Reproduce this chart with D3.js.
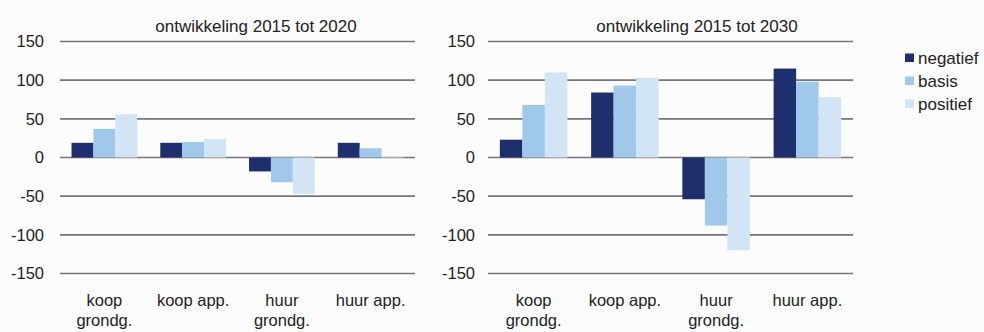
<!DOCTYPE html>
<html>
<head>
<meta charset="utf-8">
<script src="https://cdn.jsdelivr.net/npm/d3@7"></script>
<style>
  html, body { margin: 0; padding: 0; background: #fcfcfc; }
  svg { display: block; }
  text { font-family: "Liberation Sans", Arial, sans-serif; fill: #222; }
</style>
</head>
<body>
<svg id="chart" width="984" height="332"></svg>
<script>
// Woningvoorraad: ontwikkeling per segment en scenario
const categories = ["koop grondg.", "koop app.", "huur grondg.", "huur app."];
const categoryLines = [["koop", "grondg."], ["koop app."], ["huur", "grondg."], ["huur app."]];
const series = ["negatief", "basis", "positief"];
const seriesColors = ["#1d2f6c", "#9fc8ea", "#d2e5f4"];

const titles = ["ontwikkeling 2015 tot 2020", "ontwikkeling 2015 tot 2030"];

// values per series (negatief, basis, positief), per category
const negatief2020 = [19, 19, -18, 19];
const basis2020 = [37, 20, -32, 12];
const positief2020 = [56, 24, -47, 1];

const negatief2030 = [23, 84, -54, 115];
const basis2030 = [68, 93, -88, 98];
const positief2030 = [110, 103, -120, 78];

const yTicks = [-150, -100, -50, 0, 50, 100, 150];

const panels = [
  { title: titles[0], data: [negatief2020, basis2020, positief2020], x0: 60, x1: 415, titleX: 256, labelX: 44 },
  { title: titles[1], data: [negatief2030, basis2030, positief2030], x0: 488, x1: 853, titleX: 697, labelX: 475 }
];

const svg = d3.select("#chart");
const y = d3.scaleLinear().domain([-150, 150]).range([273.5, 41.5]);

panels.forEach(p => {
  const g = svg.append("g");

  const x = d3.scaleBand().domain(categories).range([p.x0, p.x1])
    .paddingInner(0.26).paddingOuter(0.13);
  const xs = d3.scaleBand().domain(series).range([0, x.bandwidth()]);

  // horizontal gridlines
  g.selectAll("line.grid").data(yTicks).join("line")
    .attr("class", "grid")
    .attr("x1", p.x0).attr("x2", p.x1)
    .attr("y1", d => y(d)).attr("y2", d => y(d))
    .attr("stroke", "#767676").attr("stroke-width", 1.6);

  // y axis labels (plain hyphen for negatives)
  const yAxis = d3.axisLeft(y).tickValues(yTicks).tickSize(0).tickPadding(0)
    .tickFormat(d => String(d));
  const ya = g.append("g").attr("transform", `translate(${p.labelX},0)`).call(yAxis);
  ya.select(".domain").remove();
  ya.selectAll("text").attr("font-size", 16.5).attr("fill", "#222")
    .attr("font-family", "Liberation Sans, Arial, sans-serif");

  // bars
  const rows = [];
  categories.forEach((c, ci) => series.forEach((s, si) => rows.push({ c, s, si, v: p.data[si][ci] })));
  g.selectAll("rect.bar").data(rows).join("rect")
    .attr("class", "bar")
    .attr("x", d => x(d.c) + xs(d.s))
    .attr("width", xs.bandwidth())
    .attr("y", d => y(Math.max(0, d.v)))
    .attr("height", d => Math.abs(y(d.v) - y(0)))
    .attr("fill", d => seriesColors[d.si]);

  // title
  g.append("text").attr("x", p.titleX).attr("y", 32)
    .attr("text-anchor", "middle").attr("font-size", 17).text(p.title);

  // category labels
  categories.forEach((c, ci) => {
    const t = g.append("text").attr("text-anchor", "middle").attr("font-size", 16.5);
    categoryLines[ci].forEach((line, li) => {
      t.append("tspan").attr("x", x(c) + x.bandwidth() / 2)
        .attr("y", 306 + li * 19.5).text(line);
    });
  });
});

// legend
const legend = svg.append("g").attr("transform", "translate(905,0)");
series.forEach((s, i) => {
  const cy = 58 + i * 23;
  legend.append("rect").attr("x", 0).attr("y", cy - 4.5).attr("width", 9).attr("height", 8.5)
    .attr("fill", seriesColors[i]);
  legend.append("text").attr("x", 13).attr("y", cy + 5.5).attr("font-size", 17).text(s);
});
</script>
</body>
</html>
